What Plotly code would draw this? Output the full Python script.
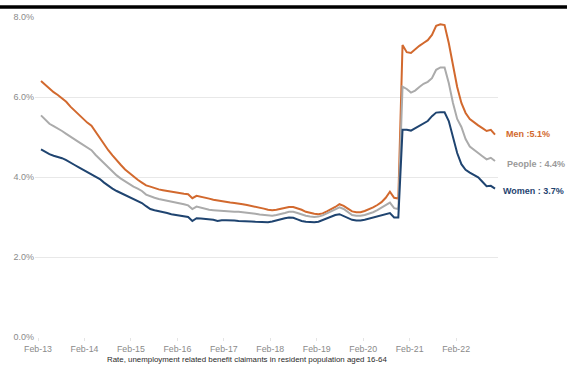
import plotly.graph_objects as go

# Monthly series, Feb-13 .. Feb-22 (109 months)
men = [6.40, 6.30, 6.22, 6.12, 6.05, 5.96, 5.88, 5.76, 5.66, 5.55,
       5.44, 5.36, 5.28, 5.12, 4.96, 4.82, 4.67, 4.54, 4.41, 4.30,
       4.19, 4.10, 4.01, 3.93, 3.86, 3.79, 3.76, 3.72, 3.69, 3.67,
       3.65, 3.64, 3.61, 3.59, 3.58, 3.57, 3.47, 3.53, 3.51, 3.48,
       3.46, 3.43, 3.41, 3.39, 3.37, 3.36, 3.35, 3.34, 3.32, 3.30,
       3.28, 3.26, 3.24, 3.21, 3.18, 3.17, 3.18, 3.20, 3.22, 3.25,
       3.25, 3.22, 3.18, 3.13, 3.10, 3.08, 3.07, 3.09, 3.14, 3.19,
       3.25, 3.32, 3.28, 3.21, 3.14, 3.12, 3.12, 3.15, 3.19, 3.24,
       3.30, 3.37, 3.48, 3.63, 3.48, 3.46, 7.30, 7.12, 7.10, 7.20,
       7.28, 7.35, 7.42, 7.55, 7.78, 7.82, 7.80, 7.35, 6.75, 6.25,
       5.85, 5.60, 5.45, 5.36, 5.29, 5.22, 5.15, 5.18, 5.06]

people = [5.54, 5.43, 5.33, 5.27, 5.22, 5.15, 5.08, 5.02, 4.94, 4.87,
          4.80, 4.73, 4.67, 4.55, 4.45, 4.34, 4.23, 4.13, 4.04, 3.96,
          3.89, 3.82, 3.76, 3.71, 3.65, 3.56, 3.51, 3.48, 3.45, 3.43,
          3.40, 3.38, 3.36, 3.34, 3.32, 3.29, 3.20, 3.26, 3.23, 3.21,
          3.18, 3.17, 3.16, 3.15, 3.15, 3.14, 3.13, 3.13, 3.12, 3.11,
          3.10, 3.08, 3.06, 3.05, 3.03, 3.03, 3.05, 3.07, 3.10, 3.13,
          3.13, 3.10, 3.06, 3.03, 3.01, 3.00, 3.01, 3.04, 3.09, 3.14,
          3.19, 3.24, 3.20, 3.12, 3.05, 3.03, 3.03, 3.05, 3.08, 3.12,
          3.17, 3.23, 3.30, 3.36, 3.22, 3.20, 6.26, 6.20, 6.11, 6.16,
          6.25, 6.33, 6.38, 6.47, 6.68, 6.74, 6.74, 6.35, 5.85, 5.45,
          5.25, 4.95, 4.76, 4.67, 4.60, 4.52, 4.44, 4.48, 4.40]

women = [4.69, 4.62, 4.57, 4.53, 4.50, 4.47, 4.42, 4.37, 4.30, 4.24,
         4.18, 4.13, 4.07, 4.01, 3.95, 3.86, 3.78, 3.71, 3.65, 3.60,
         3.55, 3.50, 3.45, 3.39, 3.35, 3.27, 3.20, 3.17, 3.15, 3.13,
         3.10, 3.07, 3.05, 3.03, 3.02, 3.00, 2.90, 2.97, 2.96, 2.95,
         2.94, 2.93, 2.90, 2.92, 2.92, 2.92, 2.91, 2.90, 2.90, 2.89,
         2.89, 2.88, 2.88, 2.87, 2.87, 2.89, 2.92, 2.95, 2.97, 2.99,
         2.98, 2.94, 2.90, 2.88, 2.87, 2.87, 2.88, 2.92, 2.97, 3.02,
         3.05, 3.07, 3.02, 2.96, 2.93, 2.91, 2.91, 2.93, 2.96, 2.99,
         3.02, 3.05, 3.08, 3.10, 2.99, 2.99, 5.18, 5.18, 5.16, 5.22,
         5.29, 5.33, 5.40, 5.52, 5.61, 5.62, 5.62, 5.40, 5.00, 4.60,
         4.32, 4.18, 4.11, 4.06, 3.99, 3.88, 3.77, 3.78, 3.71]

tick_labels = ["Feb-13", "Feb-14", "Feb-15", "Feb-16", "Feb-17",
               "Feb-18", "Feb-19", "Feb-20", "Feb-21", "Feb-22"]
y_ticks = [0, 2, 4, 6, 8]
y_tick_labels = ["0.0%", "2.0%", "4.0%", "6.0%", "8.0%"]
end_labels = ["Men :5.1%", "People : 4.4%", "Women : 3.7%"]

months = list(range(len(men)))

C_MEN = "#D2692E"
C_PEOPLE = "#ABABAB"
C_WOMEN = "#1F4470"

fig = go.Figure()
for vals, col in [(men, C_MEN), (people, C_PEOPLE), (women, C_WOMEN)]:
    fig.add_trace(go.Scatter(x=months, y=vals, mode="lines",
                             line=dict(color=col, width=2), showlegend=False,
                             hoverinfo="skip"))

# tick label spacing (labels in the source are evenly spread, slightly offset)
tick_start, tick_step = -0.71, 11.05
tickvals = [tick_start + k * tick_step for k in range(len(tick_labels))]

fig.update_layout(
    width=567, height=374,
    margin=dict(l=35, r=69, t=15, b=37),
    paper_bgcolor="white", plot_bgcolor="white",
    font=dict(family="Liberation Sans, Arial, sans-serif", color="#888888"),
    xaxis=dict(range=[-1.43, 108.71], tickvals=tickvals, ticktext=tick_labels,
               showgrid=False, zeroline=False, showline=False,
               ticks="outside", ticklen=3, tickcolor="#e4e4e4",
               tickfont=dict(size=8.8, color="#8a8a8a")),
    yaxis=dict(range=[0, 8], tickvals=y_ticks, ticktext=y_tick_labels,
               showgrid=True, gridcolor="#e8e8e8", gridwidth=1,
               zeroline=False, showline=False, ticks="",
               tickfont=dict(size=9, color="#8a8a8a")),
    hovermode=False,
)

# end-of-line labels
series_last = [men[-1], people[-1], women[-1]]
label_cols = [C_MEN, "#9a9a9a", C_WOMEN]
label_x = [1.013, 1.015, 1.006]
shifts = [1, -3, -2]
for txt, yv, col, lx, sh in zip(end_labels, series_last, label_cols, label_x, shifts):
    fig.add_annotation(x=lx, xref="paper", y=yv, yref="y", yshift=sh,
                       text="<b>" + txt + "</b>", showarrow=False,
                       xanchor="left", yanchor="middle",
                       font=dict(size=9, color=col))

fig.add_annotation(x=0.458, xref="paper", y=-0.071, yref="paper",
                   text="Rate, unemployment related benefit claimants in resident population aged 16-64",
                   showarrow=False, xanchor="center", yanchor="middle",
                   font=dict(size=7.9, color="#2a2a2a"))

# black rule across the top of the image (drawn as a thick paper-referenced line)
fig.add_shape(type="line", xref="paper", yref="paper",
              x0=-0.0756, x1=1.149, y0=1.031, y1=1.031,
              line=dict(color="black", width=3.5), layer="above")

fig.write_html("out.html", config={"displayModeBar": False},
               post_script="document.body.style.margin='0';document.body.style.padding='0';")
